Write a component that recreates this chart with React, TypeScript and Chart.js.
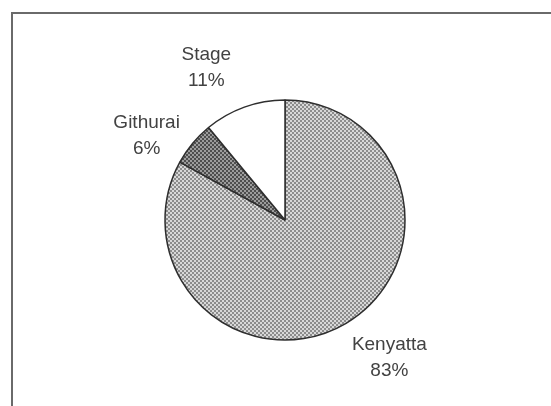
import React, { useEffect, useRef } from "react";
import { Chart, registerables } from "chart.js";

Chart.register(...registerables);

const categories = ["Kenyatta", "Githurai", "Stage"];
const values = [83, 6, 11];
const percentLabels = ["83%", "6%", "11%"];

// small label nudges (px), style only
const labelNudgeX = [-1.5, 7, 0];
const labelNudgeY = [2.5, 7, 0];

function makePattern(dark: string, light: string): CanvasPattern | string {
  const c = document.createElement("canvas");
  c.width = 4;
  c.height = 4;
  const g = c.getContext("2d");
  if (!g) return dark;
  g.fillStyle = light;
  g.fillRect(0, 0, 4, 4);
  g.fillStyle = dark;
  g.fillRect(0, 0, 2, 2);
  g.fillRect(2, 2, 2, 2);
  const ctx = document.createElement("canvas").getContext("2d");
  const p = ctx ? ctx.createPattern(c, "repeat") : null;
  return p || dark;
}

const labelPlugin = {
  id: "outerLabels",
  afterDraw(chart: any) {
    const ctx = chart.ctx;
    const meta = chart.getDatasetMeta(0);
    ctx.save();
    ctx.font = '19px "Liberation Sans", Arial, sans-serif';
    ctx.fillStyle = "#424242";
    ctx.textAlign = "center";
    ctx.textBaseline = "middle";
    meta.data.forEach((arc: any, i: number) => {
      const p = arc.getProps(["x", "y", "startAngle", "endAngle", "outerRadius"], true);
      const mid = (p.startAngle + p.endAngle) / 2 - (7.5 * Math.PI) / 180;
      const d = p.outerRadius * 1.43;
      const cx = p.x + Math.cos(mid) * d + labelNudgeX[i];
      const cy = p.y + Math.sin(mid) * d + labelNudgeY[i];
      ctx.fillText(categories[i], cx, cy - 13);
      ctx.fillText(percentLabels[i], cx, cy + 13);
    });
    ctx.restore();
  },
};

export default function App() {
  const ref = useRef<HTMLCanvasElement | null>(null);
  useEffect(() => {
    if (!ref.current) return;
    const fills = [
      makePattern("#8c8c8c", "#d8d8d8"),
      makePattern("#4e4e4e", "#9c9c9c"),
      "#ffffff",
    ];
    const chart = new Chart(ref.current, {
      type: "pie",
      data: {
        labels: categories,
        datasets: [
          {
            data: values,
            backgroundColor: fills as any,
            borderColor: "#2e2e2e",
            borderWidth: 1.5,
          },
        ],
      },
      options: {
        responsive: false,
        animation: false,
        radius: 120,
        layout: { padding: { left: 165, right: 146, top: 100, bottom: 66 } },
        plugins: {
          legend: { display: false },
          tooltip: { enabled: false },
        },
      } as any,
      plugins: [labelPlugin],
    });
    return () => chart.destroy();
  }, []);

  return (
    <div
      style={{
        position: "fixed",
        left: 0,
        top: 0,
        width: 551,
        height: 406,
        overflow: "hidden",
        background: "#ffffff",
      }}
    >
      <div
        style={{
          position: "absolute",
          left: 11,
          top: 12,
          width: 600,
          height: 450,
          borderLeft: "2px solid #6a6a6a",
          borderTop: "2px solid #6a6a6a",
        }}
      />
      <canvas
        ref={ref}
        width={551}
        height={406}
        style={{ position: "absolute", left: 0, top: 0, width: 551, height: 406 }}
      />
    </div>
  );
}
